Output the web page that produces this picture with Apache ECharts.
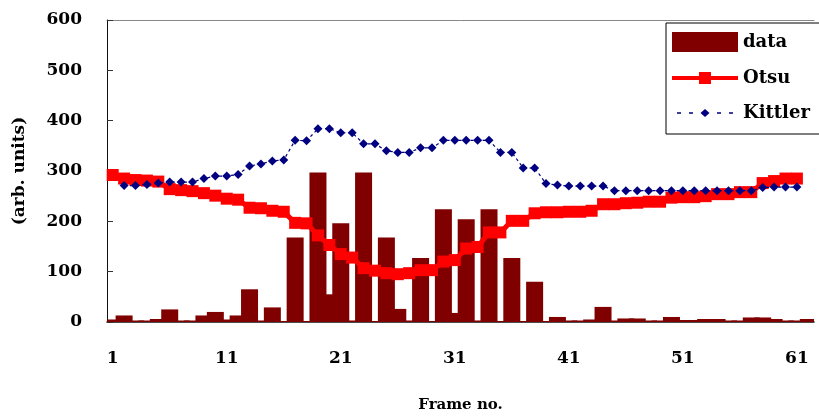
<!DOCTYPE html>
<html><head><meta charset="utf-8">
<script src="https://cdn.jsdelivr.net/npm/echarts@6/dist/echarts.min.js"></script>
<style>html,body{margin:0;padding:0;background:#fff}#c{width:819px;height:418px}</style>
</head><body><div id="c"></div>
<script>
const frames = ['1','2','3','4','5','6','7','8','9','10','11','12','13','14','15','16','17','18','19','20',
'21','22','23','24','25','26','27','28','29','30','31','32','33','34','35','36','37','38','39','40',
'41','42','43','44','45','46','47','48','49','50','51','52','53','54','55','56','57','58','59','60','61','62'];
const dataVals = [5,13,3,3,6,25,3,3,13,20,5,13,65,3,29,2,168,2,297,55,
196,3,297,2,168,26,3,127,2,224,18,204,3,224,2,127,2,80,2,10,
3,3,5,30,3,7,7,3,3,10,4,4,6,6,3,3,9,9,6,3,3,6];
const otsuVals = [292,285,282,281,279,264,262,260,256,251,245,243,227,226,221,219,197,196,172,153,
135,128,107,102,97,95,97,103,103,120,123,146,149,178,178,201,201,216,218,218,
219,219,221,234,234,236,237,239,239,247,248,248,250,254,254,258,258,276,280,285,285,null];
const kittlerVals = [null,271,271,273,276,278,278,278,285,290,290,293,310,314,320,322,361,360,384,384,
376,376,354,354,340,337,337,346,346,361,361,361,361,361,337,337,306,306,275,272,
270,270,270,270,261,261,261,261,261,261,261,261,261,261,261,261,261,267,268,268,268,null];
const yTicks = {min:0, max:600, interval:100};

const font = 'DejaVu Serif';
const otsuIcon = 'path://M0 8L27 8L27 4L39 4L39 8L66 8L66 12L39 12L39 16L27 16L27 12L0 12Z';
const kittlerIcon = 'path://M5 9.3L9 9.3L9 10.7L5 10.7Z M17 9.3L21 9.3L21 10.7L17 10.7Z M33 6L37.5 10L33 14L28.5 10Z M45 9.3L49 9.3L49 10.7L45 10.7Z M57 9.3L61 9.3L61 10.7L57 10.7Z M0 9.99L0.01 9.99L0.01 10.01L0 10.01Z M65.99 9.99L66 9.99L66 10.01L65.99 10.01Z';
const chart = echarts.init(document.getElementById('c'));
chart.setOption({
  animation:false,
  backgroundColor:'#fff',
  grid:{left:107,right:5,top:20,bottom:92},
  legend:{
    orient:'vertical', left:666, top:23,
    padding:[9,22,12,6], itemGap:17, itemWidth:66, itemHeight:20,
    borderColor:'#000', borderWidth:1, backgroundColor:'#fff',
    textStyle:{fontFamily:font, fontWeight:'bold', fontSize:18, color:'#000'},
    data:[
      {name:'data', icon:'rect'},
      {name:'Otsu', icon:otsuIcon},
      {name:'Kittler', icon:kittlerIcon}
    ]
  },
  xAxis:[{
    type:'category', data:frames, boundaryGap:true,
    axisLine:{lineStyle:{color:'#111',width:1.5}},
    axisTick:{show:false},
    axisLabel:{interval:9, margin:28, fontFamily:font, fontWeight:'bold', fontSize:17, color:'#000'},
    name:'Frame no.', nameLocation:'middle', nameGap:76,
    nameTextStyle:{fontFamily:font, fontWeight:'bold', fontSize:15, color:'#000'}
  },{
    type:'category', data:frames, position:'top',
    axisLine:{show:true, lineStyle:{color:'#888',width:1}},
    axisTick:{show:false}, axisLabel:{show:false}
  }],
  yAxis:{
    type:'value', min:yTicks.min, max:yTicks.max, interval:yTicks.interval,
    splitLine:{show:false},
    axisLine:{show:true, lineStyle:{color:'#111',width:1}},
    axisTick:{show:true, inside:true, length:6, lineStyle:{color:'#333'}},
    axisLabel:{margin:25, fontFamily:font, fontWeight:'bold', fontSize:17, color:'#000'},
    name:'(arb. units)', nameLocation:'middle', nameGap:79, nameRotate:90,
    nameTextStyle:{fontFamily:font, fontWeight:'bold', fontSize:17, color:'#000'}
  },
  series:[
    {name:'data', type:'bar', data:dataVals, barWidth:17,
     itemStyle:{color:'#800000'}, z:1},
    {name:'Otsu', type:'line', data:otsuVals, symbol:'rect', symbolSize:12, showAllSymbol:true,
     itemStyle:{color:'#ff0000'}, lineStyle:{color:'#ff0000', width:5}, z:2},
    {name:'Kittler', type:'line', data:kittlerVals, symbol:'diamond', symbolSize:9, showAllSymbol:true,
     itemStyle:{color:'#000080'}, lineStyle:{color:'#000080', width:1.2, type:[3,3]}, z:3}
  ]
});
</script></body></html>
